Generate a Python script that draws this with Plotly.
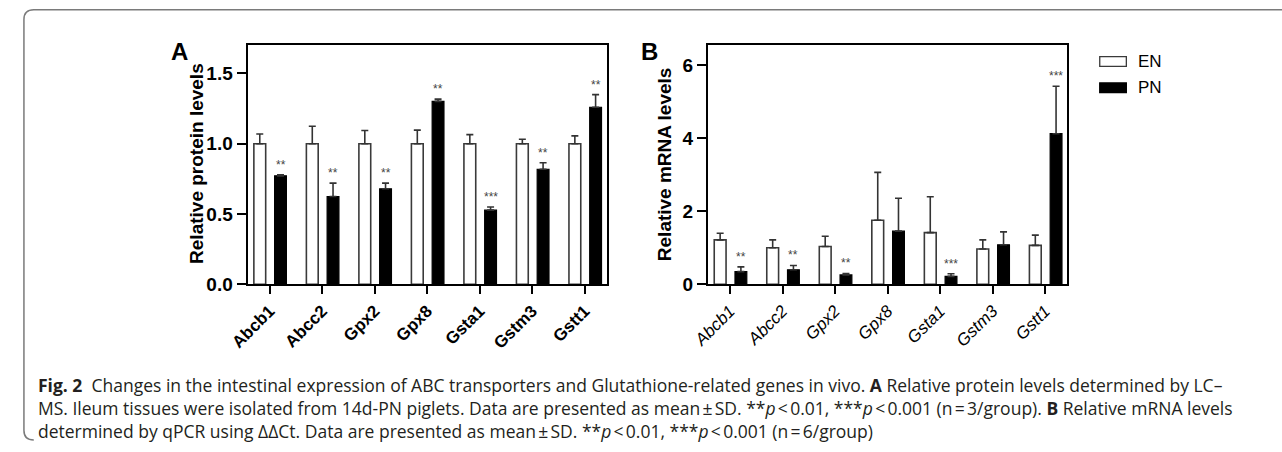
import plotly.graph_objects as go

W, H = 1282, 452

genes = ["Abcb1", "Abcc2", "Gpx2", "Gpx8", "Gsta1", "Gstm3", "Gstt1"]

# Panel A: relative protein levels (mean, SD)
prot_en = [1.00, 1.00, 1.00, 1.00, 1.00, 1.00, 1.00]
prot_en_sd = [0.07, 0.125, 0.095, 0.097, 0.065, 0.032, 0.056]
prot_pn = [0.772, 0.625, 0.68, 1.302, 0.528, 0.819, 1.26]
prot_pn_sd = [0.008, 0.095, 0.04, 0.016, 0.023, 0.046, 0.09]
prot_sig = ["**", "**", "**", "**", "***", "**", "**"]

# Panel B: relative mRNA levels (mean, SD)
mrna_en = [1.22, 1.005, 1.04, 1.76, 1.42, 0.97, 1.07]
mrna_en_sd = [0.18, 0.215, 0.28, 1.31, 0.98, 0.25, 0.28]
mrna_pn = [0.35, 0.40, 0.26, 1.46, 0.22, 1.085, 4.13]
mrna_pn_sd = [0.13, 0.12, 0.04, 0.90, 0.07, 0.355, 1.30]
mrna_sig = ["**", "**", "**", "", "***", "", "***"]

groups = ["EN", "PN"]

def px(x):
    return x / W

def py(y):
    return 1 - y / H

BAR_W = 0.225
OFF_EN = -0.30
OFF_PN = 0.095
ERR_COL = "#333333"

fig = go.Figure()

def add_panel(xa, ya, en, en_sd, pn, pn_sd, sig):
    zeros = [0] * len(genes)
    fig.add_trace(go.Bar(
        x=genes, y=en, xaxis=xa, yaxis=ya, name=groups[0], showlegend=False,
        width=BAR_W, offset=OFF_EN,
        marker=dict(color="white", line=dict(color="#3a3a3a", width=1.6)),
        error_y=dict(type="data", array=en_sd, arrayminus=zeros, symmetric=False,
                     color=ERR_COL, thickness=1.6, width=3.5),
    ))
    fig.add_trace(go.Bar(
        x=genes, y=pn, xaxis=xa, yaxis=ya, name=groups[1], showlegend=False,
        width=BAR_W, offset=OFF_PN,
        marker=dict(color="black", line=dict(color="black", width=1.2)),
        error_y=dict(type="data", array=pn_sd, arrayminus=zeros, symmetric=False,
                     color=ERR_COL, thickness=1.6, width=3.5),
    ))
    for i, s in enumerate(sig):
        if s:
            fig.add_annotation(
                x=i + OFF_PN + BAR_W / 2, y=pn[i] + pn_sd[i], xref=xa, yref=ya,
                text=s, showarrow=False, yanchor="bottom", yshift=1,
                font=dict(family="Arial, Liberation Sans", size=12, color="#444444"),
            )

add_panel("x", "y", prot_en, prot_en_sd, prot_pn, prot_pn_sd, prot_sig)
add_panel("x2", "y2", mrna_en, mrna_en_sd, mrna_pn, mrna_pn_sd, mrna_sig)

ydom = [py(291.5), py(46.5)]
axis_line = dict(showline=True, linecolor="black", linewidth=2, mirror=True,
                 showgrid=False, zeroline=False)
tickfont_y = dict(family="Arial, Liberation Sans", size=19, color="black", weight="bold")

fig.update_layout(
    width=W, height=H,
    margin=dict(l=0, r=0, t=0, b=0),
    paper_bgcolor="white", plot_bgcolor="white",
    barmode="overlay",
    xaxis=dict(domain=[px(232), px(596.6)], range=[-0.42, 6.42], anchor="y",
               ticks="outside", ticklen=8, tickwidth=2, tickcolor="black",
               tickangle=-45,
               tickfont=dict(family="Arial, Liberation Sans", size=17, color="black", weight="bold"),
               **axis_line),
    yaxis=dict(domain=ydom, range=[0, 1.70], anchor="x",
               tickvals=[0, 0.5, 1.0, 1.5], tickformat=".1f",
               ticks="outside", ticklen=9, tickwidth=2, tickcolor="black",
               tickfont=tickfont_y, **axis_line),
    xaxis2=dict(domain=[px(699.3), px(1064)], range=[-0.42, 6.42], anchor="y2",
                ticks="outside", ticklen=8, tickwidth=2, tickcolor="black",
                tickangle=-45,
                tickfont=dict(family="Arial, Liberation Sans", size=17, color="black", style="italic"),
                **axis_line),
    yaxis2=dict(domain=ydom, range=[0, 6.55], anchor="x2",
                tickvals=[0, 2, 4, 6],
                ticks="outside", ticklen=9, tickwidth=2, tickcolor="black",
                tickfont=tickfont_y, **axis_line),
)

# axis titles
fig.add_annotation(x=px(168), y=py(168), xref="paper", yref="paper", text="Relative protein levels",
                   textangle=-90, showarrow=False,
                   font=dict(family="Arial, Liberation Sans", size=19, color="black", weight="bold"))
fig.add_annotation(x=px(656), y=py(168), xref="paper", yref="paper", text="Relative mRNA levels",
                   textangle=-90, showarrow=False,
                   font=dict(family="Arial, Liberation Sans", size=19, color="black", weight="bold"))

# panel letters
fig.add_annotation(x=px(152), y=py(37), xref="paper", yref="paper", text="A", showarrow=False,
                   font=dict(family="Arial, Liberation Sans", size=24, color="black", weight="bold"))
fig.add_annotation(x=px(640), y=py(37), xref="paper", yref="paper", text="B", showarrow=False,
                   font=dict(family="Arial, Liberation Sans", size=24, color="black", weight="bold"))

# legend (manual)
legend_items = [(groups[0], "white", 63), (groups[1], "black", 90)]
for name, fill, yc in legend_items:
    fig.add_shape(type="rect", xref="paper", yref="paper",
                  x0=px(1097), x1=px(1124), y0=py(yc - 5), y1=py(yc + 5),
                  fillcolor=fill, line=dict(color="#3a3a3a" if fill == "white" else "black", width=1.3))
    fig.add_annotation(x=px(1134), y=py(yc), xref="paper", yref="paper", text=name,
                       showarrow=False, xanchor="left", yanchor="middle",
                       font=dict(family="Arial, Liberation Sans", size=17, color="black"))

# figure frame
fig.add_shape(type="path", xref="paper", yref="paper",
              path=f"M {px(1282)},{py(10)} L {px(15)},{py(10)} Q {px(5)},{py(10)} {px(5)},{py(20)} "
                   f"L {px(5)},{py(441)} Q {px(5)},{py(451)} {px(15)},{py(451)}",
              line=dict(color="#7a7a7a", width=1.5))

# caption (one multi-line text block)
ns = "\u202f"
cap_font = dict(family="Open Sans, Noto Sans", size=17.5, color="#231f20")
caption = [
    "<b>Fig. 2</b>  Changes in the intestinal expression of ABC transporters and Glutathione-related genes in vivo. "
    "<b>A</b> Relative protein levels determined by LC–",
    f"MS. Ileum tissues were isolated from 14d-PN piglets. Data are presented as mean{ns}±{ns}SD. "
    f"**<i>p</i>{ns}&lt;{ns}0.01, ***<i>p</i>{ns}&lt;{ns}0.001 (n{ns}={ns}3/group). <b>B</b> Relative mRNA levels",
    f"determined by qPCR using ΔΔCt. Data are presented as mean{ns}±{ns}SD. "
    f"**<i>p</i>{ns}&lt;{ns}0.01, ***<i>p</i>{ns}&lt;{ns}0.001 (n{ns}={ns}6/group)",
]
fig.add_annotation(x=px(17), y=py(418), xref="paper", yref="paper", text="<br>".join(caption),
                   showarrow=False, xanchor="left", yanchor="middle", align="left", font=cap_font)

fig.write_html("out.html", config={"displayModeBar": False},
               post_script="document.body.style.margin='0';document.body.style.padding='0';")
